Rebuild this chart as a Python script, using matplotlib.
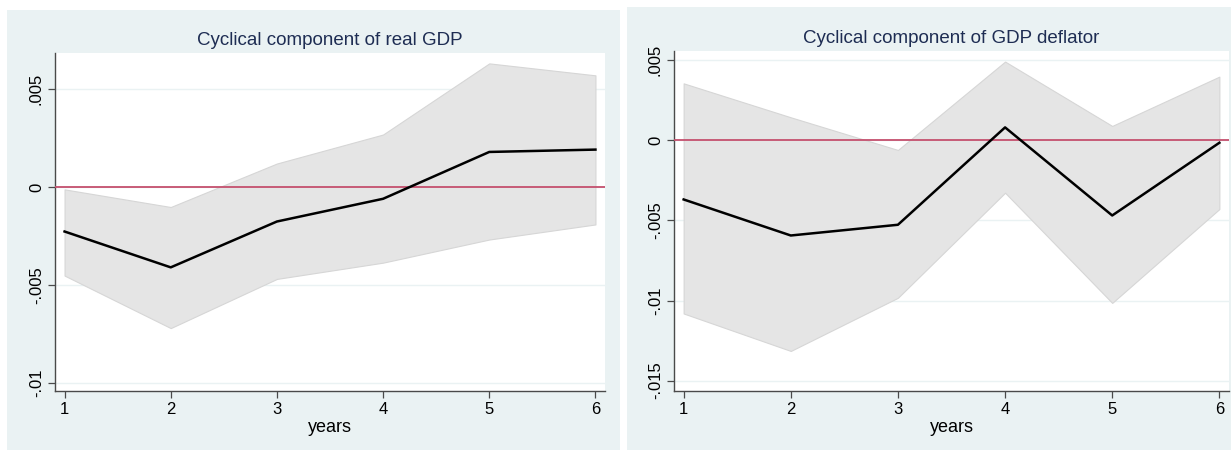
import matplotlib
matplotlib.use("Agg")
import matplotlib.pyplot as plt
from matplotlib.patches import Rectangle

# Data
years = [1, 2, 3, 4, 5, 6]

gdp_irf = [-0.00227, -0.0041, -0.00176, -0.0006, 0.00179, 0.00191]
gdp_upper = [-0.00012, -0.00102, 0.0012, 0.00268, 0.00631, 0.0057]
gdp_lower = [-0.00452, -0.0072, -0.00469, -0.00386, -0.00268, -0.00191]

defl_irf = [-0.00369, -0.00594, -0.00527, 0.00081, -0.00469, -0.00015]
defl_upper = [0.00356, 0.00144, -0.0006, 0.00492, 0.0009, 0.00398]
defl_lower = [-0.01081, -0.01315, -0.00983, -0.00327, -0.01015, -0.00429]

gdp_yticks = [0.005, 0, -0.005, -0.01]
gdp_yticklabels = [".005", "0", "-.005", "-.01"]
defl_yticks = [0.005, 0, -0.005, -0.01, -0.015]
defl_yticklabels = [".005", "0", "-.005", "-.01", "-.015"]

# Styling
c_BG = "#EAF2F3"
c_FILL = "#E5E5E5"
c_FILL_EDGE = "#D6D6D6"
c_ZERO = "#C4506E"
c_TITLE = "#1E2D53"
c_AXIS = "#4A4A4A"

plt.rcParams["font.family"] = ["Liberation Sans", "DejaVu Sans"]

W, H = 1231, 450
fig = plt.figure(figsize=(W / 100, H / 100), dpi=100)
fig.patch.set_facecolor("white")


def px_rect(x0, y0, x1, y1):
  # pixel box (top-left origin) to figure fraction
  return [x0 / W, 1 - y1 / H, (x1 - x0) / W, (y1 - y0) / H]


# Panel backgrounds
for (x0, y0, x1, y1) in [(7, 10, 620, 450), (627, 7, 1231, 450)]:
  r = px_rect(x0, y0, x1, y1)
  fig.patches.append(Rectangle((r[0], r[1]), r[2], r[3], transform=fig.transFigure,
                               facecolor=c_BG, edgecolor="none", zorder=-5))


def draw_panel(box, title, irf, upper, lower, yticks, yticklabels, ylim):
  ax = fig.add_axes(px_rect(*box))
  ax.set_facecolor("white")
  ax.fill_between(years, lower, upper, facecolor=c_FILL, edgecolor=c_FILL_EDGE, linewidth=0.8, zorder=2)
  ax.axhline(0, color=c_ZERO, linewidth=1.3, zorder=3)
  ax.plot(years, irf, color="black", linewidth=1.8, zorder=4)
  for y in yticks:
    ax.axhline(y, color=c_BG, linewidth=1.0, zorder=1)

  ax.set_xlim(0.91, 6.09)
  ax.set_ylim(*ylim)
  ax.set_xticks(years)
  ax.set_xticklabels([str(v) for v in years], fontsize=12)
  ax.set_yticks(yticks)
  ax.set_yticklabels(yticklabels, fontsize=12, rotation=90, va="center")
  ax.tick_params(axis="both", direction="out", length=5, width=0.9, color=c_AXIS, pad=3)

  for s in ["top", "right"]:
    ax.spines[s].set_visible(False)
  for s in ["left", "bottom"]:
    ax.spines[s].set_color(c_AXIS)
    ax.spines[s].set_linewidth(1.0)

  ax.set_title(title, fontsize=13.5, color=c_TITLE, pad=6)
  ax.set_xlabel("years", fontsize=13, labelpad=1)
  return ax


draw_panel((55, 53, 605, 391), "Cyclical component of real GDP",
           gdp_irf, gdp_upper, gdp_lower, gdp_yticks, gdp_yticklabels, (-0.01041, 0.00684))
draw_panel((674, 51, 1229, 391), "Cyclical component of GDP deflator",
           defl_irf, defl_upper, defl_lower, defl_yticks, defl_yticklabels, (-0.01565, 0.00558))

plt.savefig("out.png", dpi=100, facecolor=fig.get_facecolor())
plt.close()
